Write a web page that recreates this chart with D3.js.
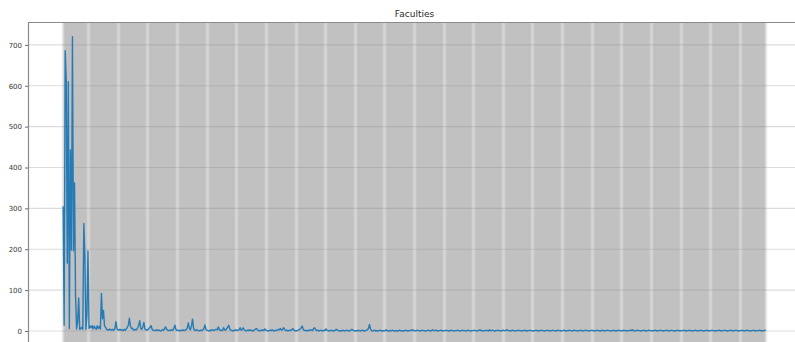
<!DOCTYPE html>
<html>
<head>
<meta charset="utf-8">
<script src="https://cdn.jsdelivr.net/npm/d3@7"></script>
<style>
  body { margin: 0; background: #fff; }
  text { font-family: "DejaVu Sans", sans-serif; }
</style>
</head>
<body>
<svg id="chart" width="795" height="342"></svg>
<script>
// Chart title and y-axis ticks
const chartTitle = "Faculties";
const yTickValues = [0, 100, 200, 300, 400, 500, 600, 700];

// Count per faculty, in category order (one value per category on the x axis)
const counts = [
  305,14,686,612,166,610,6,443,198,720,196,362,85,5,22,81,4,6,9,4,
  263,184,4,40,196,6,12,8,13,5,12,7,4,13,6,11,5,92,30,50,
  12,9,4,3,2,5,3,2,4,2,6,23,5,3,2,4,2,3,1,4,
  2,5,9,14,31,12,6,7,3,2,4,3,8,14,25,6,4,10,21,5,
  3,2,4,6,9,13,4,2,1,2,1,3,1,2,0,1,3,2,6,10,
  4,2,1,2,1,3,2,6,14,4,1,2,1,0,2,1,3,1,2,4,
  8,20,6,3,12,29,7,2,1,3,2,1,0,2,1,3,6,15,4,2,
  1,0,2,1,3,2,1,4,4,3,10,3,1,2,1,8,3,2,6,9,
  14,5,2,1,0,2,1,3,1,2,3,8,2,4,8,3,1,0,2,1,
  3,1,2,0,1,3,5,6,2,1,0,2,1,3,1,5,2,1,0,1,
  2,1,3,1,0,2,1,2,4,3,6,2,3,8,4,1,2,0,1,2,
  1,3,6,2,1,0,1,2,3,5,8,12,4,1,2,1,0,2,1,3,
  2,1,6,8,3,1,2,0,1,2,1,0,2,1,5,2,1,0,1,2,
  1,0,1,2,4,2,1,0,1,0,2,1,0,1,2,1,0,1,2,4,
  2,1,0,1,0,2,1,0,1,2,1,0,1,2,3,6,16,5,1,0,
  1,2,0,1,0,1,2,1,0,1,0,1,3,1,0,1,0,1,2,1,
  0,1,0,1,0,2,1,0,1,0,1,2,1,0,1,1,2,1,3,1,
  0,1,2,1,1,0,1,2,1,1,0,1,1,2,1,0,1,3,1,1,
  2,1,0,1,1,2,1,0,1,1,2,1,1,0,1,2,1,1,0,1,
  1,2,1,0,1,1,2,1,1,0,1,2,1,1,0,1,1,2,1,1,
  0,1,2,3,1,1,0,1,1,2,1,0,3,1,1,2,1,0,1,1,
  2,1,1,0,1,2,1,1,2,3,1,1,0,1,2,1,1,0,1,1,
  2,1,1,0,1,1,2,1,0,1,1,2,1,1,0,1,1,2,1,0,
  1,1,2,1,1,0,1,1,2,1,0,1,1,2,1,1,0,1,2,1,
  1,0,1,1,2,1,0,1,1,2,1,1,0,1,2,1,1,0,1,1,
  2,1,0,1,1,2,1,1,0,1,1,2,1,0,1,1,2,1,1,0,
  1,2,1,0,1,1,2,1,1,0,1,1,2,1,0,1,1,2,1,1,
  0,1,2,1,1,0,1,1,2,1,3,1,0,1,1,2,1,1,0,1,
  1,2,1,0,1,1,2,1,1,0,1,1,2,1,0,1,1,2,1,1,
  0,1,1,2,1,0,1,1,2,1,1,0,1,1,2,1,0,1,1,1,
  2,1,0,1,1,2,1,1,0,1,1,2,1,0,1,1,2,1,1,0,
  1,1,2,1,0,1,1,2,1,1,0,1,1,1,2,1,0,1,1,2,
  1,1,0,1,1,2,1,0,1,1,2,1,1,0,1,1,2,1,0,1,
  1,2,1,1,0,1,1,2,1,0,1,1,1,2,1,0,1,1,2,1
];

// Axes box (right and bottom edges run just past the visible page)
const axL = 28, axR = 801, axT = 22, axB = 345.7;
const margin = 0.05;

const svg = d3.select("#chart");
svg.append("rect").attr("width", 795).attr("height", 342).attr("fill", "#fff");

const defs = svg.append("defs");
defs.append("filter").attr("id", "grid-soften")
  .attr("x", "-5%").attr("y", "0%").attr("width", "110%").attr("height", "100%")
  .append("feGaussianBlur").attr("stdDeviation", "1.25 0");

const n = counts.length;
const x = d3.scaleLinear()
  .domain([-margin * (n - 1), (1 + margin) * (n - 1)])
  .range([axL, axR]);

const yLo = d3.min(counts), yHi = d3.max(counts), ySpan = yHi - yLo;
const y = d3.scaleLinear()
  .domain([yLo - margin * ySpan, yHi + margin * ySpan])
  .range([axB, axT]);

defs.append("clipPath").attr("id", "plot-clip")
  .append("rect").attr("x", axL).attr("y", axT)
  .attr("width", axR - axL).attr("height", axB - axT);

const plot = svg.append("g").attr("clip-path", "url(#plot-clip)");

// One vertical grid line per category, snapped to whole pixels; packed this
// tightly they merge into a grey band with the odd lighter gap
plot.append("g").attr("class", "x-grid")
  .attr("filter", "url(#grid-soften)")
  .selectAll("line").data(d3.range(n)).join("line")
  .attr("x1", i => Math.floor(x(i)) + 0.5)
  .attr("x2", i => Math.floor(x(i)) + 0.5)
  .attr("y1", axT).attr("y2", axB)
  .attr("stroke", "#c1c1c1")
  .attr("stroke-width", 1)
  .attr("shape-rendering", "crispEdges");

// Horizontal grid lines at the y ticks
plot.append("g").attr("class", "y-grid")
  .selectAll("line").data(yTickValues).join("line")
  .attr("x1", axL).attr("x2", axR)
  .attr("y1", d => y(d)).attr("y2", d => y(d))
  .attr("stroke", "#8c8c8c")
  .attr("stroke-opacity", 0.3)
  .attr("stroke-width", 1.2);

// Count line
plot.append("path")
  .datum(counts)
  .attr("fill", "none")
  .attr("stroke", "#1f77b4")
  .attr("stroke-width", 1.4)
  .attr("stroke-opacity", 0.95)
  .attr("stroke-linejoin", "round")
  .attr("d", d3.line().x((d, i) => x(i)).y(d => y(d)));

// Left axis with ticks and labels
const yAxis = d3.axisLeft(y).tickValues(yTickValues).tickSize(3).tickPadding(3);
const gy = svg.append("g").attr("transform", `translate(${axL},0)`).call(yAxis);
gy.select(".domain").remove();
gy.selectAll(".tick line").attr("stroke", "#6a6a6a");
gy.selectAll(".tick text")
  .attr("fill", "#3a3a3a")
  .style("font-size", "7px")
  .style("font-family", "'DejaVu Sans', sans-serif");

// Spines (top and left are the visible ones)
svg.append("line").attr("x1", axL).attr("x2", axR).attr("y1", axT + 0.5).attr("y2", axT + 0.5)
  .attr("stroke", "#8a8a8a").attr("stroke-width", 1.2);
svg.append("line").attr("x1", axL + 0.5).attr("x2", axL + 0.5).attr("y1", axT).attr("y2", axB)
  .attr("stroke", "#8a8a8a").attr("stroke-width", 1.2);

// Title
svg.append("text")
  .attr("x", (axL + axR) / 2).attr("y", 16.5)
  .attr("text-anchor", "middle")
  .attr("fill", "#2a2a2a")
  .style("font-size", "9px")
  .text(chartTitle);
</script>
</body>
</html>
